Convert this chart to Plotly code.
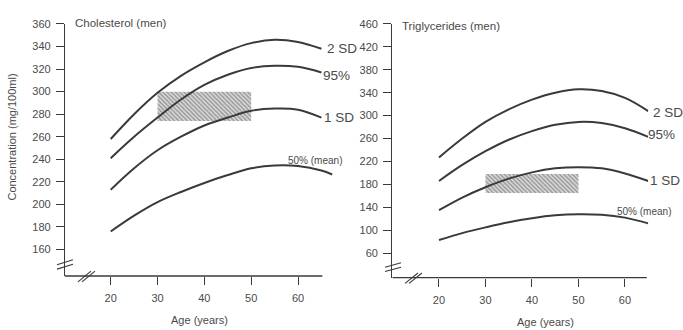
import plotly.graph_objects as go

W, H = 683, 330

# ---------------- data ----------------
ages = [20, 25, 30, 35, 40, 45, 50, 55, 60, 65]
chol_2sd = [258, 280, 299, 314, 326, 336, 343, 346, 344, 338]
chol_95 = [241, 260, 277, 293, 306, 315, 321, 323, 322, 317]
chol_1sd = [213, 232, 248, 260, 270, 277, 283, 285, 284, 277]
chol_mean_ages = [20, 25, 30, 35, 40, 45, 50, 55, 60, 65, 67.3]
chol_mean = [176, 190, 202, 211, 219, 226, 232, 234.5, 234, 230, 226.5]
chol_box_age = [30, 50]
chol_box_val = [274, 300]

trig_2sd = [227, 260, 289, 311, 328, 340, 346, 343, 331, 308]
trig_95 = [186, 214, 238, 258, 273, 284, 289, 287, 278, 263]
trig_1sd = [135, 157, 175, 190, 201, 208, 210, 208, 199, 186]
trig_mean = [83, 95, 105, 114, 121, 126, 128, 127, 122, 112]
trig_box_age = [30, 50]
trig_box_val = [165, 198]

chol_ticks = list(range(160, 361, 20))
trig_ticks = list(range(60, 461, 40))
age_ticks = [20, 30, 40, 50, 60]

curve_labels = ["2 SD", "95%", "1 SD", "50% (mean)"]

# ---------------- layout geometry (pixels) ----------------
INK = "#3a3a3a"
TXT = "#4a4a4a"
FONT = "Liberation Sans, Arial, sans-serif"

def fx(px):
    return px / W

def fy(py):
    return 1 - py / H

# left panel
L_x0, L_ppy = 65.0, 4.6825
L_xr = [10.24, 67.5]
L_x1 = L_x0 + (L_xr[1] - L_xr[0]) * L_ppy
L_ytop, L_ybot = 18.3, 275.0
L_yr = [136.5, 360]

# right panel
R_x0, R_ppy = 392.3, 4.65
R_xr = [9.96, 65.0]
R_x1 = R_x0 + (R_xr[1] - R_xr[0]) * R_ppy
R_ytop, R_ybot = 18.3, 276.7
R_yr = [17.2, 460]

fig = go.Figure()

def box_trace(xa, ya, ages_, vals):
    return go.Scatter(
        x=[ages_[0], ages_[1], ages_[1], ages_[0], ages_[0]],
        y=[vals[0], vals[0], vals[1], vals[1], vals[0]],
        mode="lines", fill="toself", line=dict(width=0, color="rgba(0,0,0,0)"),
        fillcolor="rgba(0,0,0,0)",
        fillpattern=dict(shape="\\", size=3, solidity=0.5, fgcolor="#555555", bgcolor="#dcdcdc"),
        xaxis=xa, yaxis=ya, showlegend=False, hoverinfo="skip")

def curve(xa, ya, x, y):
    return go.Scatter(x=x, y=y, mode="lines", line=dict(color=INK, width=2, shape="spline", smoothing=1.0),
                      xaxis=xa, yaxis=ya, showlegend=False)

fig.add_trace(box_trace("x", "y", chol_box_age, chol_box_val))
fig.add_trace(box_trace("x2", "y2", trig_box_age, trig_box_val))
for s in [chol_2sd, chol_95, chol_1sd]:
    fig.add_trace(curve("x", "y", ages, s))
fig.add_trace(curve("x", "y", chol_mean_ages, chol_mean))
for s in [trig_2sd, trig_95, trig_1sd, trig_mean]:
    fig.add_trace(curve("x2", "y2", ages, s))

tickfont = dict(family=FONT, size=11, color=TXT)

common_x = dict(tickvals=age_ticks, ticks="outside", ticklen=8, tickcolor=INK, tickwidth=1.2,
                showline=False, showgrid=False, zeroline=False, tickfont=tickfont, ticklabelstandoff=4)
common_y = dict(ticks="outside", ticklen=8, tickcolor=INK, tickwidth=1.2, showline=True, linecolor=INK,
                linewidth=1.3, showgrid=False, zeroline=False, tickfont=tickfont, ticklabelstandoff=3)

fig.update_layout(
    width=W, height=H, margin=dict(l=0, r=0, t=0, b=0),
    paper_bgcolor="white", plot_bgcolor="white", showlegend=False,
    xaxis=dict(domain=[fx(L_x0), fx(L_x1)], range=L_xr, anchor="y", **common_x),
    yaxis=dict(domain=[fy(L_ybot), fy(L_ytop)], range=L_yr, tickvals=chol_ticks, anchor="x", **common_y),
    xaxis2=dict(domain=[fx(R_x0), fx(R_x1)], range=R_xr, anchor="y2", **common_x),
    yaxis2=dict(domain=[fy(R_ybot), fy(R_ytop)], range=R_yr, tickvals=trig_ticks, anchor="x2", **common_y),
)

shapes = []
# x-axis baselines
shapes.append(dict(type="line", xref="x", yref="y domain", x0=L_xr[0], x1=65.2, y0=0, y1=0,
                   line=dict(color=INK, width=1.3)))
shapes.append(dict(type="line", xref="x2", yref="y2 domain", x0=R_xr[0], x1=64.7, y0=0, y1=0,
                   line=dict(color=INK, width=1.3)))

def slash_pair(x0, y0, x1, y1, dx, dy):
    out = []
    for k in (0, 1):
        out.append(dict(type="line", xref="paper", yref="paper",
                        x0=fx(x0 + k * dx), y0=fy(y0 + k * dy), x1=fx(x1 + k * dx), y1=fy(y1 + k * dy),
                        line=dict(color=INK, width=1.1)))
    return out

# axis break marks
shapes += slash_pair(57, 263.5, 73, 258.5, 0, 4.5)
shapes += slash_pair(78, 281, 91, 270, 4, 0)
shapes += slash_pair(385, 266, 401, 261.5, 0, 4.5)
shapes += slash_pair(405, 282.5, 418, 272, 4, 0)
fig.update_layout(shapes=shapes)

ann = []
def txt(x, y, s, size, xanchor="left", angle=0):
    ann.append(dict(x=fx(x), y=fy(y), xref="paper", yref="paper", text=s, showarrow=False,
                    xanchor=xanchor, yanchor="middle", textangle=angle,
                    font=dict(family=FONT, size=size, color=TXT)))

txt(73, 17, "Cholesterol (men)", 11.5)
txt(400, 20, "Triglycerides (men)", 11.5)
txt(12, 134, "Concentration (mg/100ml)", 11, xanchor="center", angle=-90)
txt(199, 320, "Age (years)", 11, xanchor="center")
txt(545, 322, "Age (years)", 11, xanchor="center")

# curve labels left
txt(325, 43, curve_labels[0], 13.5)
txt(321, 71, curve_labels[1], 13.5)
txt(322, 114, curve_labels[2], 13.5)
txt(286, 157, curve_labels[3], 10)
# curve labels right
txt(651, 108, curve_labels[0], 13.5)
txt(646, 131, curve_labels[1], 13.5)
txt(648, 178, curve_labels[2], 13.5)
txt(615, 209, curve_labels[3], 10)
fig.update_layout(annotations=ann)

fig.write_html("out.html")
